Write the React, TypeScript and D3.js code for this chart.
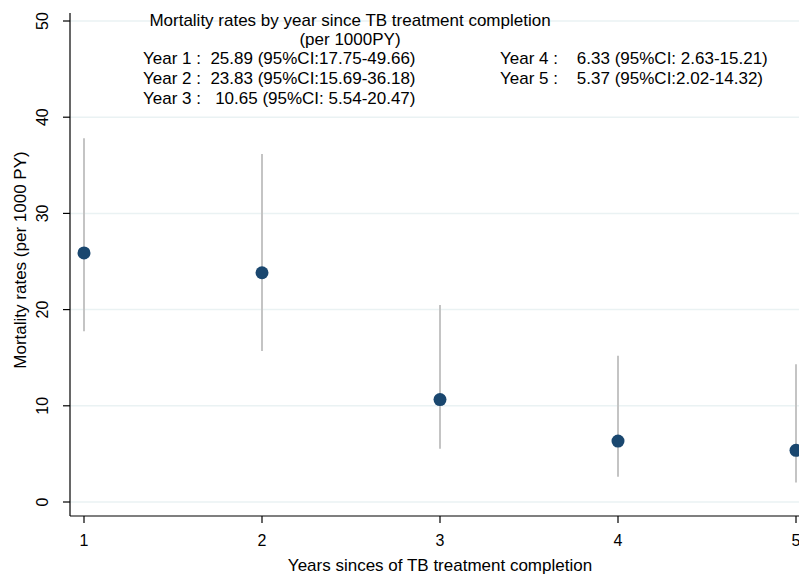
import React from "react";
import * as d3 from "d3";

const years = [1, 2, 3, 4, 5];
const rates = [25.89, 23.83, 10.65, 6.33, 5.37];
const ciLower = [17.75, 15.69, 5.54, 2.63, 2.02];
const ciUpper = [37.8, 36.18, 20.47, 15.21, 14.32];
const yTicks = [0, 10, 20, 30, 40, 50];
const titleLines = ["Mortality rates by year since TB treatment completion", "(per 1000PY)"];
const leftNotes = [
  "Year 1 :  25.89 (95%CI:17.75-49.66)",
  "Year 2 :  23.83 (95%CI:15.69-36.18)",
  "Year 3 :   10.65 (95%CI: 5.54-20.47)",
];
const rightNotes = [
  "Year 4 :    6.33 (95%CI: 2.63-15.21)",
  "Year 5 :    5.37 (95%CI:2.02-14.32)",
];
const xTitle = "Years sinces of TB treatment completion";
const yTitle = "Mortality rates (per 1000 PY)";

export default function App() {
  const W = 799, H = 579;
  const x = d3.scaleLinear().domain([1, 5]).range([84, 796]);
  const y = d3.scaleLinear().domain([0, 50]).range([502, 21]);
  const axisX = 70;
  const axisY = 516;
  const font = "'Liberation Sans', Arial, sans-serif";
  return (
    <svg width={W} height={H} style={{ position: "absolute", left: 0, top: 0, background: "#fff" }} fontFamily={font}>
      <rect width={W} height={H} fill="#fff" />
      {yTicks.map((t) => (
        <line key={"g" + t} x1={axisX} x2={W} y1={y(t)} y2={y(t)} stroke="#eaf2f3" strokeWidth={1.5} />
      ))}
      {years.map((yr, i) => (
        <line key={"ci" + yr} x1={x(yr)} x2={x(yr)} y1={y(ciLower[i])} y2={y(ciUpper[i])} stroke="#c4c4c4" strokeWidth={2} />
      ))}
      {years.map((yr, i) => (
        <circle key={"p" + yr} cx={x(yr)} cy={y(rates[i])} r={6.5} fill="#1a476f" />
      ))}
      <line x1={axisX} x2={axisX} y1={13} y2={axisY} stroke="#000" strokeWidth={1.2} />
      <line x1={axisX} x2={W} y1={axisY} y2={axisY} stroke="#000" strokeWidth={1.2} />
      {yTicks.map((t) => (
        <g key={"yt" + t}>
          <line x1={axisX - 7} x2={axisX} y1={y(t)} y2={y(t)} stroke="#000" strokeWidth={1.2} />
          <text transform={`translate(${axisX - 22},${y(t)}) rotate(-90)`} textAnchor="middle" fontSize={16} fill="#000">{t}</text>
        </g>
      ))}
      {years.map((yr) => (
        <g key={"xt" + yr}>
          <line x1={x(yr)} x2={x(yr)} y1={axisY} y2={axisY + 7} stroke="#000" strokeWidth={1.2} />
          <text x={x(yr)} y={axisY + 30} textAnchor="middle" fontSize={16} fill="#000">{yr}</text>
        </g>
      ))}
      <text x={440} y={571} textAnchor="middle" fontSize={17} fill="#000">{xTitle}</text>
      <text transform={`translate(26,260) rotate(-90)`} textAnchor="middle" fontSize={17} fill="#000">{yTitle}</text>
      {titleLines.map((l, i) => (
        <text key={"t" + i} x={350} y={26 + i * 19} textAnchor="middle" fontSize={17} fill="#000">{l}</text>
      ))}
      {leftNotes.map((l, i) => (
        <text key={"l" + i} x={143} y={64 + i * 20} fontSize={17} fill="#000" style={{ whiteSpace: "pre" }}>{l}</text>
      ))}
      {rightNotes.map((l, i) => (
        <text key={"r" + i} x={500} y={64 + i * 20} fontSize={17} fill="#000" style={{ whiteSpace: "pre" }}>{l}</text>
      ))}
    </svg>
  );
}
